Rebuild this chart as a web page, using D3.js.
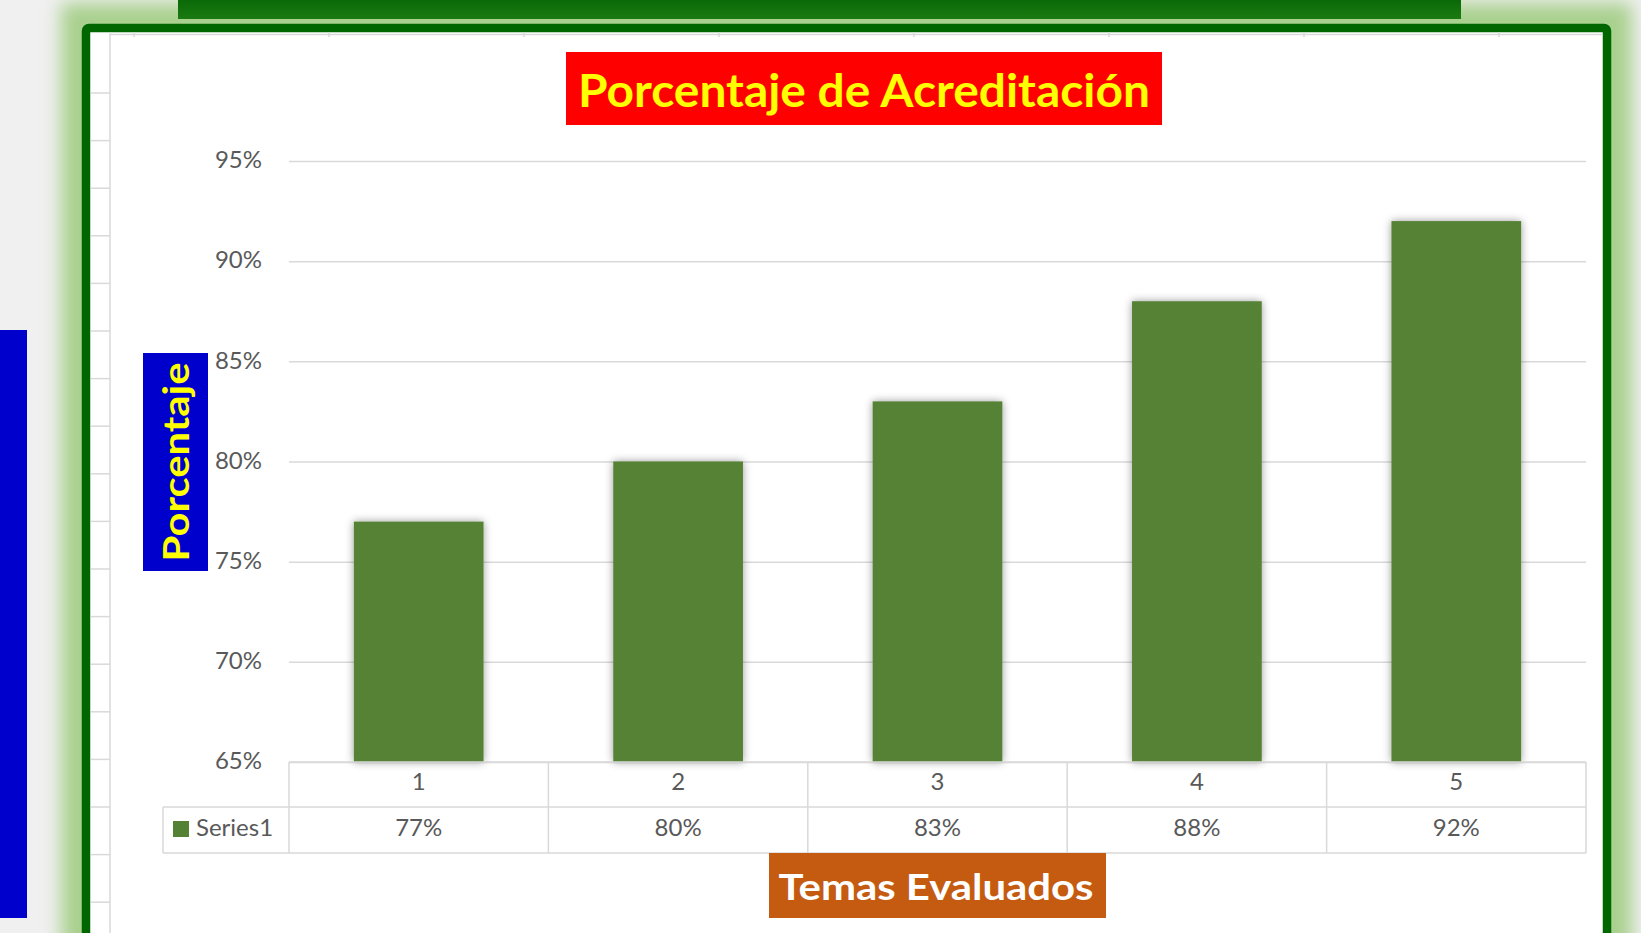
<!DOCTYPE html>
<html>
<head>
<meta charset="utf-8">
<script src="https://cdn.jsdelivr.net/npm/d3@7"></script>
<style>
  body { margin: 0; background: #f0f0f0; overflow: hidden; }
  svg { display: block; font-family: Lato, "Open Sans", sans-serif; }
</style>
</head>
<body>
<svg id="chart" width="1641" height="933"></svg>
<script>
// data
var categories = ["1", "2", "3", "4", "5"];
var values = [0.77, 0.80, 0.83, 0.88, 0.92];
var yTicks = [0.65, 0.70, 0.75, 0.80, 0.85, 0.90, 0.95];
var seriesName = "Series1";
var chartTitle = "Porcentaje de Acreditación";
var yTitle = "Porcentaje";
var xTitle = "Temas Evaluados";

var svg = d3.select("#chart");
var defs = svg.append("defs");

var glow = defs.append("filter").attr("id", "glow")
    .attr("x", "-10%").attr("y", "-10%").attr("width", "120%").attr("height", "120%");
glow.append("feGaussianBlur").attr("stdDeviation", 9);

var shadow = defs.append("filter").attr("id", "shadow")
    .attr("x", "-30%").attr("y", "-30%").attr("width", "160%").attr("height", "160%");
shadow.append("feDropShadow").attr("dx", 0).attr("dy", 0)
    .attr("stdDeviation", 4).attr("flood-color", "#000").attr("flood-opacity", 0.4);

var topGrad = defs.append("linearGradient").attr("id", "topGrad")
    .attr("x1", 0).attr("y1", 0).attr("x2", 0).attr("y2", 1);
topGrad.append("stop").attr("offset", "0%").attr("stop-color", "#0a6a08");
topGrad.append("stop").attr("offset", "100%").attr("stop-color", "#1b7a10");

// decoration around the chart
svg.append("rect").attr("x", 0).attr("y", 330).attr("width", 27).attr("height", 588)
    .attr("fill", "#0000cc");

svg.append("rect").attr("x", 86).attr("y", 28).attr("width", 1521).attr("height", 1000)
    .attr("fill", "none").attr("stroke", "#a9d08e").attr("stroke-width", 50)
    .attr("filter", "url(#glow)");

svg.append("rect").attr("x", 178).attr("y", 0).attr("width", 1283).attr("height", 19)
    .attr("fill", "url(#topGrad)");

svg.append("rect").attr("x", 86).attr("y", 28).attr("width", 1521).attr("height", 1000)
    .attr("rx", 3).attr("fill", "#ffffff").attr("stroke", "#006600").attr("stroke-width", 8.5);

// faint sheet grid behind the chart
var sheet = svg.append("g").attr("stroke", "#d9d9d9").attr("stroke-width", 1.5);
sheet.append("line").attr("x1", 110).attr("x2", 110).attr("y1", 32).attr("y2", 933);
sheet.append("line").attr("x1", 110).attr("x2", 1602).attr("y1", 34.5).attr("y2", 34.5);
d3.range(0, 18).forEach(function(k) {
    var yy = 93 + k * 47.6;
    sheet.append("line").attr("x1", 91).attr("x2", 110).attr("y1", yy).attr("y2", yy);
});
d3.range(0, 8).forEach(function(k) {
    var xx = 134 + k * 195;
    sheet.append("line").attr("x1", xx).attr("x2", xx).attr("y1", 32).attr("y2", 37);
});

// scales
var x = d3.scaleBand().domain(categories).range([289, 1586])
    .paddingInner(0.5).paddingOuter(0.25);
var y = d3.scaleLinear().domain([0.65, 0.95]).range([762, 161]);
var pct = d3.format(".0%");

// gridlines
svg.append("g")
    .attr("transform", "translate(289,0)")
    .call(d3.axisLeft(y).tickValues(yTicks).tickSize(-1297).tickFormat(""))
    .call(function(g) { g.select(".domain").remove(); })
    .selectAll("line").attr("stroke", "#d9d9d9").attr("stroke-width", 1.5);

// y axis labels
var yAxis = svg.append("g")
    .attr("transform", "translate(289,0)")
    .call(d3.axisLeft(y).tickValues(yTicks).tickSize(0).tickPadding(27).tickFormat(pct));
yAxis.select(".domain").remove();
yAxis.selectAll("text")
    .attr("fill", "#595959").style("font-size", "24px").style("font-family", "Lato, sans-serif")
    .attr("dy", "0.28em");

// bars
svg.append("g").selectAll("rect")
  .data(values)
  .join("rect")
    .attr("x", function(d, i) { return x(categories[i]); })
    .attr("y", function(d) { return y(d); })
    .attr("width", x.bandwidth())
    .attr("height", function(d) { return y(0.65) - y(d); })
    .attr("fill", "#548235")
    .attr("filter", "url(#shadow)");

// data table
var table = svg.append("g").attr("stroke", "#d9d9d9").attr("stroke-width", 1.5);
var left = x.range()[0], right = x.range()[1];
var row1 = 807, row2 = 853;
table.append("line").attr("x1", left).attr("x2", right).attr("y1", y(0.65)).attr("y2", y(0.65));
table.append("line").attr("x1", 163).attr("x2", right).attr("y1", row1).attr("y2", row1);
table.append("line").attr("x1", 163).attr("x2", right).attr("y1", row2).attr("y2", row2);
table.append("line").attr("x1", 163).attr("x2", 163).attr("y1", row1).attr("y2", row2);
var bounds = categories.map(function(c) { return x(c) + x.bandwidth() / 2 - x.step() / 2; });
bounds.push(right);
table.selectAll(".vb")
  .data(bounds)
  .join("line")
    .attr("x1", function(d) { return d; }).attr("x2", function(d) { return d; })
    .attr("y1", y(0.65)).attr("y2", row2);

var cellText = svg.append("g").attr("fill", "#595959")
    .style("font-size", "24px").attr("text-anchor", "middle");
cellText.selectAll(".cat")
  .data(categories)
  .join("text")
    .attr("x", function(d) { return x(d) + x.bandwidth() / 2; })
    .attr("y", 790)
    .text(function(d) { return d; });
cellText.selectAll(".val")
  .data(values)
  .join("text")
    .attr("x", function(d, i) { return x(categories[i]) + x.bandwidth() / 2; })
    .attr("y", 836)
    .text(function(d) { return pct(d); });

svg.append("rect").attr("x", 173).attr("y", 821).attr("width", 16).attr("height", 16)
    .attr("fill", "#548235");
svg.append("text").attr("x", 196).attr("y", 836).attr("fill", "#595959")
    .style("font-size", "24px").text(seriesName);

// chart title
svg.append("rect").attr("x", 566).attr("y", 52).attr("width", 596).attr("height", 73)
    .attr("fill", "#ff0000");
svg.append("text").attr("x", 864).attr("y", 107).attr("text-anchor", "middle")
    .attr("fill", "#ffff00").style("font-size", "45px").style("font-weight", "bold")
    .attr("textLength", 572).attr("lengthAdjust", "spacingAndGlyphs")
    .text(chartTitle);

// y axis title
svg.append("rect").attr("x", 143).attr("y", 353).attr("width", 65).attr("height", 218)
    .attr("fill", "#0000cc");
svg.append("text").attr("transform", "translate(189,462) rotate(-90)")
    .attr("text-anchor", "middle")
    .attr("fill", "#ffff00").style("font-size", "37px").style("font-weight", "bold")
    .attr("textLength", 199).attr("lengthAdjust", "spacingAndGlyphs")
    .text(yTitle);

// x axis title
svg.append("rect").attr("x", 769).attr("y", 853).attr("width", 337).attr("height", 65)
    .attr("fill", "#c55a11");
svg.append("text").attr("x", 936).attr("y", 900).attr("text-anchor", "middle")
    .attr("fill", "#ffffff").style("font-size", "37px").style("font-weight", "bold")
    .attr("textLength", 315).attr("lengthAdjust", "spacingAndGlyphs")
    .text(xTitle);
</script>
</body>
</html>
